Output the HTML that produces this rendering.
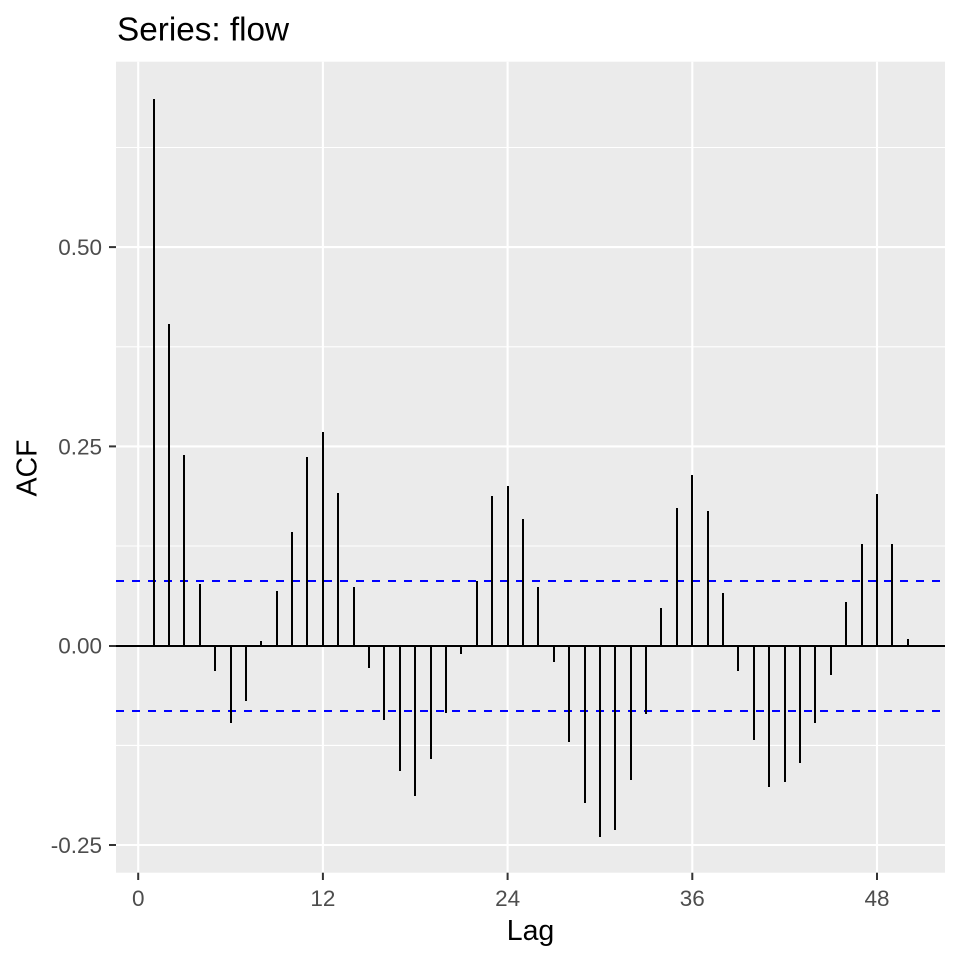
<!DOCTYPE html>
<html><head><meta charset="utf-8"><style>
html,body{margin:0;padding:0;background:#fff;}
svg{display:block;}
text{font-family:"Liberation Sans",Arial,sans-serif;}
</style></head><body>
<svg width="960" height="960" viewBox="0 0 960 960" xmlns="http://www.w3.org/2000/svg">
<rect x="0" y="0" width="960" height="960" fill="#fff"/>
<rect x="116" y="61.7" width="829" height="811" fill="#EBEBEB"/>
<g stroke="#fff" stroke-width="1.1">
<line x1="116" x2="945" y1="147.5" y2="147.5"/>
<line x1="116" x2="945" y1="346.8" y2="346.8"/>
<line x1="116" x2="945" y1="546" y2="546"/>
<line x1="116" x2="945" y1="745.4" y2="745.4"/>
</g>
<g stroke="#fff" stroke-width="2.1">
<line x1="116" x2="945" y1="247.1" y2="247.1"/>
<line x1="116" x2="945" y1="446.4" y2="446.4"/>
<line x1="116" x2="945" y1="645.7" y2="645.7"/>
<line x1="116" x2="945" y1="845" y2="845"/>
<line y1="61.7" y2="872.7" x1="138.2" x2="138.2"/>
<line y1="61.7" y2="872.7" x1="322.9" x2="322.9"/>
<line y1="61.7" y2="872.7" x1="507.6" x2="507.6"/>
<line y1="61.7" y2="872.7" x1="692.3" x2="692.3"/>
<line y1="61.7" y2="872.7" x1="877" x2="877"/>
</g>
<line x1="116" x2="945" y1="646" y2="646" stroke="#000" stroke-width="2"/>
<g stroke="#0000FF" stroke-width="2" stroke-dasharray="8,8">
<line x1="116" x2="945" y1="581" y2="581"/>
<line x1="116" x2="945" y1="711" y2="711"/>
</g>
<g stroke="#000" stroke-width="2" id="bars"></g>
<g stroke="#333" stroke-width="2">
<line x1="109" x2="116" y1="247.1" y2="247.1"/>
<line x1="109" x2="116" y1="446.4" y2="446.4"/>
<line x1="109" x2="116" y1="646" y2="646"/>
<line x1="109" x2="116" y1="845" y2="845"/>
<line y1="872.7" y2="880" x1="138.2" x2="138.2"/>
<line y1="872.7" y2="880" x1="322.9" x2="322.9"/>
<line y1="872.7" y2="880" x1="507.6" x2="507.6"/>
<line y1="872.7" y2="880" x1="692.3" x2="692.3"/>
<line y1="872.7" y2="880" x1="877" x2="877"/>
</g>
<g fill="#4D4D4D" font-size="22.5" text-anchor="end">
<text x="102" y="255">0.50</text>
<text x="102" y="454.3">0.25</text>
<text x="102" y="653.6">0.00</text>
<text x="102" y="852.9">-0.25</text>
</g>
<g fill="#4D4D4D" font-size="22.5" text-anchor="middle">
<text x="138.2" y="906">0</text>
<text x="322.9" y="906">12</text>
<text x="507.6" y="906">24</text>
<text x="692.3" y="906">36</text>
<text x="877" y="906">48</text>
</g>
<text x="530.5" y="940" font-size="28.5" text-anchor="middle" fill="#000">Lag</text>
<text transform="translate(36.5,468) rotate(-90)" font-size="28.5" text-anchor="middle" fill="#000">ACF</text>
<text x="117" y="40.7" font-size="33.3" fill="#000">Series: flow</text>
</svg>
<script>
(function(){
var v=[99,324,455,584,670.7,722.7,700.7,641,591,532,457,432,493,587,667.7,719.7,770.7,795.7,758.7,712.7,653.7,581,496,486,519,587,661.7,741.7,802.7,836.7,830,780,714,608,508,475,511,593,670.7,740,786.7,782,762.7,722.7,675,602,544,494,544,639];
var g=document.getElementById('bars');var ns='http://www.w3.org/2000/svg';
for(var i=0;i<v.length;i++){var x=Math.round(138.2+(i+1)*15.39);var l=document.createElementNS(ns,'line');
l.setAttribute('x1',x);l.setAttribute('x2',x);l.setAttribute('y1',646);l.setAttribute('y2',Math.round(v[i]));g.appendChild(l);}
})();
</script>
</body></html>
